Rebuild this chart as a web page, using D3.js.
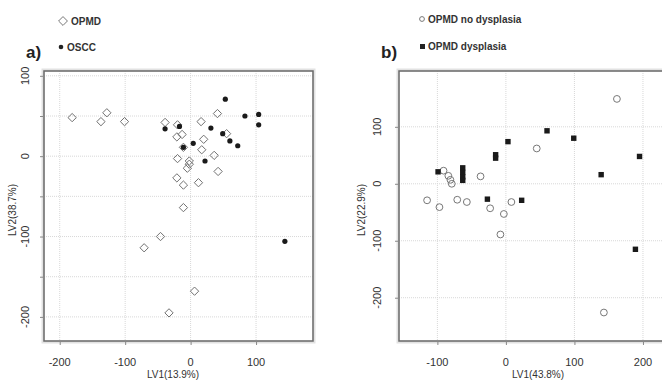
<!DOCTYPE html>
<html>
<head>
<meta charset="utf-8">
<script src="https://cdn.jsdelivr.net/npm/d3@7"></script>
<style>
  body { margin: 0; background: #fff; }
  svg { display: block; font-family: "Liberation Sans", Arial, sans-serif; }
</style>
</head>
<body>
<div id="chart"></div>
<script>
// ---------- data ----------
// panel a: OPMD (open diamonds) and OSCC (filled dots), [LV1, LV2]
const opmdA = [
  [-181, 48], [-137, 43], [-128, 54], [-101, 43],
  [-39, 42], [-20, 39], [-21, 24], [-13, 27], [-11, 11],
  [16, 43], [41, 53], [20, 21], [17, 8], [55, 28], [36, 1],
  [-20, -3], [-2, -6], [-2, -10], [-5, -15], [42, -19],
  [-21, -27], [-11, -36], [12, -33],
  [-11, -64], [-46, -100], [-71, -114], [6, -168], [-33, -195]
];
const osccA = [
  [53, 71], [83, 50], [104, 52], [104, 39], [-39, 34], [-17, 37],
  [31, 35], [49, 28], [60, 19], [72, 13], [4, 16], [22, -6],
  [-11, 11], [144, -106]
];
// panel b: OPMD no dysplasia (open circles), OPMD dysplasia (filled squares)
const noDysB = [
  [162, 149], [45, 62], [-37, 13], [-91, 23], [-84, 14], [-81, 7], [-79, 0],
  [-115, -29], [-97, -41], [-71, -28], [-57, -32], [-23, -43], [8, -32],
  [-3, -53], [-8, -89], [143, -226]
];
const dysB = [
  [-99, 21], [-63, 28], [-63, 20], [-63, 12], [-63, 6], [-15, 51], [-15, 45],
  [3, 74], [60, 93], [99, 80], [139, 16], [195, 48],
  [-27, -27], [23, -29], [189, -115]
];

const ticksA = { x: [-200, -100, 0, 100], y: [100, 0, -100, -200], grid: [100, 50, 0, -50, -100, -150, -200] };
const ticksB = { x: [-100, 0, 100, 200], y: [100, 0, -100, -200], grid: [100, 0, -100, -200] };

const W = 662, H = 382;
const svg = d3.select("#chart").append("svg").attr("width", W).attr("height", H);

function panel(cfg) {
  const x = d3.scaleLinear().domain(cfg.xDom).range([cfg.left, cfg.right]);
  const y = d3.scaleLinear().domain(cfg.yDom).range([cfg.top, cfg.bottom]);
  const g = svg.append("g");

  //gridlines
  g.selectAll(".vg").data(cfg.ticks.x).enter().append("line")
    .attr("x1", d => x(d)).attr("x2", d => x(d))
    .attr("y1", cfg.top).attr("y2", cfg.bottom)
    .style("stroke", "#d8d8d8").style("stroke-dasharray", "1,1");
  g.selectAll(".hg").data(cfg.ticks.grid).enter().append("line")
    .attr("x1", cfg.left).attr("x2", cfg.right)
    .attr("y1", d => y(d)).attr("y2", d => y(d))
    .style("stroke", "#d8d8d8").style("stroke-dasharray", "1,1");

  //frame
  g.append("rect")
    .attr("x", cfg.left - 1).attr("y", cfg.top - 1)
    .attr("width", cfg.right - cfg.left + 2).attr("height", cfg.bottom - cfg.top + 2)
    .style("fill", "none").style("stroke", "#e2e2e2").style("stroke-width", 3);
  g.append("rect")
    .attr("x", cfg.left).attr("y", cfg.top)
    .attr("width", cfg.right - cfg.left).attr("height", cfg.bottom - cfg.top)
    .style("fill", "none").style("stroke", "#6a6a6a").style("stroke-width", 1.5);

  //axes
  const yAxis = g.append("g").attr("transform", `translate(${cfg.left},0)`)
    .call(d3.axisLeft(y).tickValues(cfg.ticks.grid).tickSize(4).tickFormat(""));
  const xAxis = g.append("g").attr("transform", `translate(0,${cfg.bottom})`)
    .call(d3.axisBottom(x).tickValues(cfg.ticks.x).tickSize(4).tickFormat(""));
  [xAxis, yAxis].forEach(a => {
    a.select(".domain").remove();
    a.selectAll("line").style("stroke", "#888");
  });

  g.selectAll(".xl").data(cfg.ticks.x).enter().append("text")
    .attr("x", d => x(d)).attr("y", cfg.bottom + 25)
    .attr("text-anchor", "middle").style("font-size", "11px").style("fill", "#333")
    .text(d => d);
  g.selectAll(".yl").data(cfg.ticks.y).enter().append("text")
    .attr("transform", d => `translate(${cfg.left - cfg.tickOff},${y(d)}) rotate(-90)`)
    .attr("text-anchor", "middle").style("font-size", "11px").style("fill", "#333")
    .text(d => d);

  g.append("text")
    .attr("x", cfg.xLabX).attr("y", 378)
    .attr("text-anchor", "middle").style("font-size", "10px").style("fill", "#333")
    .text(cfg.xLabel);
  g.append("text")
    .attr("transform", `translate(${cfg.left - cfg.titleOff},${cfg.yLabY}) rotate(-90)`)
    .attr("text-anchor", "middle").style("font-size", "10px").style("fill", "#333")
    .text(cfg.yLabel);

  //panel letter
  g.append("text")
    .attr("x", cfg.letterX).attr("y", 58)
    .style("font-size", "17px").style("font-weight", "bold").style("fill", "#222")
    .text(cfg.letter);

  const marks = g.append("g");
  return { x, y, g: marks };
}

// ---------- panel a ----------
const pa = panel({
  xDom: [-224, 187], yDom: [106, -230],
  left: 44, right: 313, top: 71, bottom: 341,
  ticks: ticksA, xLabel: "LV1(13.9%)", yLabel: "LV2(38.7%)",
  xLabX: 173, yLabY: 210, letter: "a)", letterX: 26,
  tickOff: 15, titleOff: 28
});
const diamond = d3.symbol().type(d3.symbolDiamond2).size(44);
pa.g.selectAll(".opmd").data(opmdA).enter().append("path")
  .attr("d", diamond)
  .attr("transform", d => `translate(${pa.x(d[0])},${pa.y(d[1])})`)
  .style("fill", "none").style("stroke", "#707070").style("stroke-width", 1);
pa.g.selectAll(".oscc").data(osccA).enter().append("circle")
  .attr("cx", d => pa.x(d[0])).attr("cy", d => pa.y(d[1])).attr("r", 2.6)
  .style("fill", "#1a1a1a");

// ---------- panel b ----------
const pb = panel({
  xDom: [-156, 238], yDom: [198, -276],
  left: 399, right: 669, top: 71, bottom: 341,
  ticks: ticksB, xLabel: "LV1(43.8%)", yLabel: "LV2(22.9%)",
  xLabX: 538, yLabY: 210, letter: "b)", letterX: 381,
  tickOff: 18, titleOff: 34
});
pb.g.selectAll(".nodys").data(noDysB).enter().append("circle")
  .attr("cx", d => pb.x(d[0])).attr("cy", d => pb.y(d[1])).attr("r", 3.4)
  .style("fill", "none").style("stroke", "#777").style("stroke-width", 1);
pb.g.selectAll(".dys").data(dysB).enter().append("rect")
  .attr("x", d => pb.x(d[0]) - 2.7).attr("y", d => pb.y(d[1]) - 2.7)
  .attr("width", 5.4).attr("height", 5.4)
  .style("fill", "#1a1a1a");

// ---------- legends ----------
const leg = svg.append("g").style("font-size", "10px").style("font-weight", "bold").style("fill", "#333");
leg.append("path").attr("d", d3.symbol().type(d3.symbolDiamond2).size(50))
  .attr("transform", "translate(63,21)")
  .style("fill", "none").style("stroke", "#777");
leg.append("text").attr("x", 71).attr("y", 25).text("OPMD");
leg.append("circle").attr("cx", 61).attr("cy", 47).attr("r", 2.3).style("fill", "#222");
leg.append("text").attr("x", 67).attr("y", 51).text("OSCC");

leg.append("circle").attr("cx", 422).attr("cy", 19).attr("r", 2.4)
  .style("fill", "none").style("stroke", "#777");
leg.append("text").attr("x", 428).attr("y", 23).text("OPMD no dysplasia");
leg.append("rect").attr("x", 420).attr("y", 44).attr("width", 5).attr("height", 5).style("fill", "#222");
leg.append("text").attr("x", 428).attr("y", 50).text("OPMD dysplasia");
</script>
</body>
</html>
